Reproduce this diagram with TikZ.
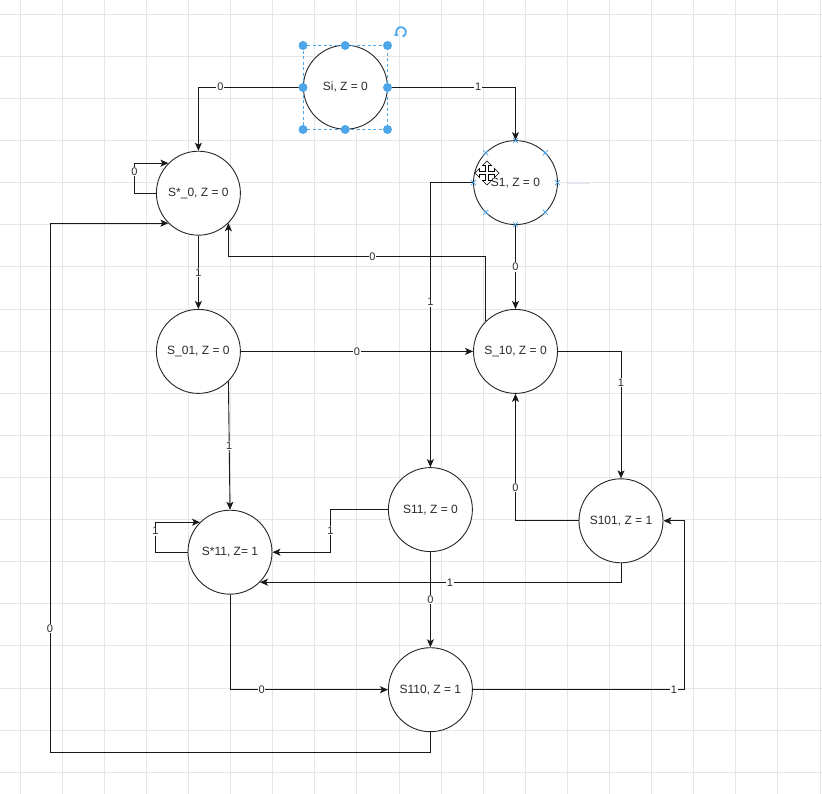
\documentclass[tikz,border=0pt]{standalone}
\usepackage{fontspec}
\setmainfont{Liberation Sans}
\usetikzlibrary{arrows.meta}
\definecolor{gridc}{HTML}{E6E6E6}
\definecolor{selc}{HTML}{4DA6EA}
\definecolor{txtc}{HTML}{2A2A2A}
\definecolor{ghost}{HTML}{E3E8EF}
\tikzset{
  state/.style={circle, draw=black!85, line width=0.9pt, minimum size=84pt, inner sep=0pt,
    fill=white, text=txtc, font=\fontsize{12}{14}\selectfont},
  arr/.style={draw=black!90, line width=0.9pt, -{Stealth[length=8pt,width=7pt,inset=2pt]}},
  lbl/.style={fill=white, inner sep=0.8pt, text=txtc, font=\fontsize{11}{12}\selectfont},
  handle/.style={circle, fill=selc, inner sep=0pt, minimum size=9pt},
  cross/.style={draw=selc, line width=0.8pt}
}
\begin{document}
\begin{tikzpicture}[x=1pt,y=-1pt]
\useasboundingbox (0,0) rectangle (822,794);
\fill[white] (0,0) rectangle (822,794);
% canvas grid
\foreach \k in {0,...,19} \draw[gridc, line width=0.8pt] ({20+42.1*\k},0) -- ({20+42.1*\k},794);
\foreach \k in {0,...,18} \draw[gridc, line width=0.8pt] (0,{14.3+42.1*\k}) -- (822,{14.3+42.1*\k});

% states
\node[state] (si)     at (345.4,87.2)  {Si, Z = 0};
\node[state] (s0)     at (198.4,193.2) {S*\_0, Z = 0};
\node[state] (s1)     at (515.5,182.6) {S1, Z = 0};
\node[state] (s01)    at (198.4,351.4) {S\_01, Z = 0};
\node[state] (s10)    at (515.5,351.4) {S\_10, Z = 0};
\node[state] (s11)    at (430.4,509.6) {S11, Z = 0};
\node[state] (s101)   at (621.0,520.8) {S101, Z = 1};
\node[state] (s11s)   at (230.0,552.2) {S*11, Z= 1};
\node[state] (s110)   at (430.4,689.7) {S110, Z = 1};
\coordinate (corner) at (50,752.5);

% transitions
\draw[arr] (si.west) -| node[lbl,pos=0.395]{0} (s0.north);
\draw[arr] (si.east) -| node[lbl,pos=0.354]{1} (s1.north);
\draw[arr] (s0.west) -- ++(-21.4,0) |- node[lbl,pos=0.36]{0} (s0.135);
\draw[arr] (s0.south) -- node[lbl]{1} (s01.north);
\draw[arr] (s1.south) -- node[lbl]{0} (s10.north);
\draw[arr] (s1.west) -| node[lbl,pos=0.71]{1} (s11.north);
\draw[arr] (s10.135) -- ++(0,-64.7) -| node[lbl,pos=0.22]{0} (s0.315);
\draw[arr] (s01.east) -- node[lbl]{0} (s10.west);
\draw[arr] (s01.315) -- node[lbl]{1} (s11s.north);
\draw[arr] (s10.east) -| node[lbl,pos=0.624]{1} (s101.north);
\draw[arr] (s101.west) -| node[lbl,pos=0.63]{0} (s10.south);
\draw[arr] (s11.west) -- ++(-57.4,0) |- node[lbl,pos=0.25]{1} (s11s.east);
\draw[arr] (s101.south) |- node[lbl,pos=0.737]{1} (s11s.315);
\draw[arr] (s11.south) -- node[lbl]{0} (s110.north);
\draw[arr] (s11s.west) -- ++(-32,0) |- node[lbl,pos=0.35]{1} (s11s.135);
\draw[arr] (s11s.south) |- node[lbl,pos=0.6]{0} (s110.west);
\draw[arr] (s110.east) -- node[lbl,pos=0.95]{1} ++(211.6,0) |- (s101.east);
\draw[arr] (s110.south) |- (corner) |- node[lbl,pos=0.117]{0} (s0.225);

% selection frame around Si
\draw[selc, line width=0.8pt, dash pattern=on 3pt off 2.5pt] (303,45.5) rectangle (387.5,129.5);
\foreach \p in {(303,45.5),(345.2,45.5),(387.5,45.5),(303,87.5),(387.5,87.5),(303,129.5),(345.2,129.5),(387.5,129.5)}
  \node[handle] at \p {};
\draw[selc, line width=1.8pt, -{Stealth[length=4pt,width=5pt]}] (401,32) ++(70:5) arc[start angle=70, end angle=-230, radius=5];

% connection points on S1
\foreach \a in {0,45,...,315}
  \draw[cross] (s1.center) ++(\a:42) ++(-2.5,-2.5) -- ++(5,5) ++(-5,0) -- ++(5,-5);
\draw[ghost, line width=2pt] (566,182.6) -- (590,182.6);

% move cursor
\draw[fill=white, draw=black, line width=0.6pt, shift={(487,173)}]
  (0,-12) -- (4.5,-7.5) -- (1.5,-7.5) -- (1.5,-1.5) -- (7.5,-1.5) -- (7.5,-4.5) -- (12,0)
  -- (7.5,4.5) -- (7.5,1.5) -- (1.5,1.5) -- (1.5,7.5) -- (4.5,7.5) -- (0,12)
  -- (-4.5,7.5) -- (-1.5,7.5) -- (-1.5,1.5) -- (-7.5,1.5) -- (-7.5,4.5) -- (-12,0)
  -- (-7.5,-4.5) -- (-7.5,-1.5) -- (-1.5,-1.5) -- (-1.5,-7.5) -- (-4.5,-7.5) -- cycle;
\end{tikzpicture}
\end{document}
